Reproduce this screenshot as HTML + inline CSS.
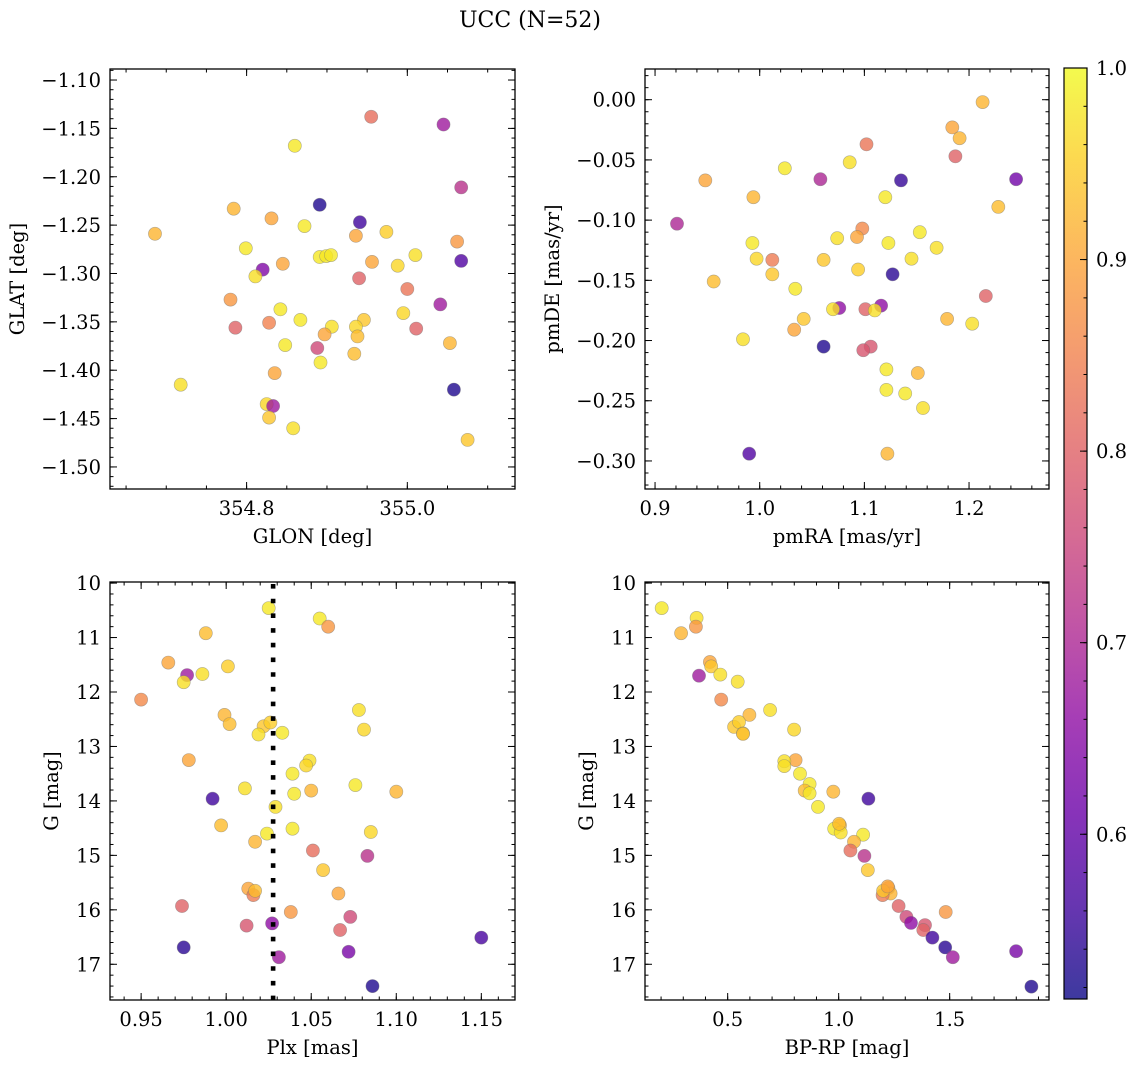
<!DOCTYPE html>
<html><head><meta charset="utf-8">
<style>
html,body{margin:0;padding:0;background:#fff;}
svg{display:block;font-family:"DejaVu Serif","Liberation Serif",serif;}
</style></head>
<body>
<svg id="fig" width="1136" height="1068" viewBox="0 0 1136 1068" xmlns="http://www.w3.org/2000/svg">
<defs>
<linearGradient id="cbgrad" x1="0" y1="1" x2="0" y2="0">
<stop offset="0" stop-color="#0d0887"/><stop offset="0.1" stop-color="#41049d"/><stop offset="0.2" stop-color="#6a00a8"/><stop offset="0.3" stop-color="#8f0da4"/><stop offset="0.4" stop-color="#b12a90"/><stop offset="0.5" stop-color="#cc4778"/><stop offset="0.6" stop-color="#e16462"/><stop offset="0.7" stop-color="#f2844b"/><stop offset="0.8" stop-color="#fca636"/><stop offset="0.9" stop-color="#fcce25"/><stop offset="1" stop-color="#f0f921"/>
</linearGradient>
</defs>
<text x="530" y="27" font-size="22" text-anchor="middle">UCC (N=52)</text>
</svg>
<script>
// Panel 1: GLON vs GLAT
const glon=[354.955,355.045,354.860,355.067,354.891,354.784,354.831,354.941,354.686,354.872,354.936,354.974,355.062,354.799,354.891,354.899,354.905,355.010,355.067,354.956,354.988,354.820,354.845,354.811,354.940,355.000,354.780,355.041,354.842,354.995,354.786,354.828,354.867,354.946,354.906,354.936,354.897,354.938,355.011,355.053,354.848,354.888,354.934,354.892,354.835,354.718,355.058,354.825,354.833,354.828,354.858,355.075];
const glat=[-1.138,-1.146,-1.168,-1.211,-1.229,-1.233,-1.243,-1.247,-1.259,-1.251,-1.261,-1.257,-1.267,-1.274,-1.283,-1.282,-1.281,-1.281,-1.287,-1.288,-1.292,-1.296,-1.290,-1.303,-1.305,-1.316,-1.327,-1.332,-1.337,-1.341,-1.356,-1.351,-1.348,-1.348,-1.355,-1.355,-1.363,-1.365,-1.357,-1.372,-1.374,-1.377,-1.383,-1.392,-1.403,-1.415,-1.420,-1.435,-1.437,-1.449,-1.460,-1.472];
const prob1=[0.82,0.68,0.98,0.72,0.53,0.92,0.90,0.56,0.92,0.98,0.90,0.95,0.88,0.98,0.98,0.98,0.98,0.97,0.58,0.90,0.96,0.64,0.90,0.97,0.80,0.83,0.88,0.68,0.98,0.96,0.80,0.85,0.98,0.94,0.97,0.96,0.90,0.93,0.80,0.92,0.98,0.76,0.93,0.98,0.90,0.97,0.53,0.96,0.68,0.94,0.97,0.94];
// Panel 2: pmRA vs pmDE
const pmra=[1.213,1.184,1.191,1.102,1.187,1.086,1.024,1.058,1.135,1.245,0.948,0.994,1.120,1.228,0.921,1.098,1.093,1.074,1.153,1.123,1.169,0.993,0.997,1.012,1.061,1.145,1.094,1.012,1.127,0.956,1.034,1.216,1.076,1.070,1.116,1.101,1.110,1.179,1.203,1.042,1.033,0.984,1.061,1.106,1.099,1.121,1.151,1.121,1.139,1.156,0.990,1.122];
const pmde=[-0.002,-0.023,-0.032,-0.037,-0.047,-0.052,-0.057,-0.066,-0.067,-0.066,-0.067,-0.081,-0.081,-0.089,-0.103,-0.107,-0.114,-0.115,-0.110,-0.119,-0.123,-0.119,-0.132,-0.133,-0.133,-0.132,-0.141,-0.145,-0.145,-0.151,-0.157,-0.163,-0.173,-0.174,-0.171,-0.174,-0.175,-0.182,-0.186,-0.182,-0.191,-0.199,-0.205,-0.205,-0.208,-0.224,-0.227,-0.241,-0.244,-0.256,-0.294,-0.294];
const prob2=[0.92,0.90,0.92,0.83,0.80,0.97,0.98,0.70,0.55,0.62,0.90,0.92,0.98,0.93,0.70,0.86,0.90,0.97,0.98,0.98,0.97,0.98,0.96,0.84,0.94,0.97,0.95,0.94,0.54,0.93,0.98,0.80,0.66,0.97,0.66,0.80,0.97,0.92,0.97,0.94,0.90,0.97,0.53,0.78,0.78,0.98,0.92,0.98,0.98,0.97,0.58,0.92];
// Panel 3: Plx vs G
const plx=[1.025,1.055,1.060,0.988,0.966,0.977,0.986,1.001,0.975,0.950,1.078,0.999,1.002,1.022,1.026,1.019,1.033,1.081,0.978,1.049,1.047,1.039,1.076,1.011,1.040,1.050,1.100,0.992,1.029,0.997,1.039,1.024,1.085,1.017,1.051,1.083,1.057,1.013,1.016,1.017,1.066,0.974,1.038,1.073,1.012,1.027,1.067,1.150,0.975,1.072,1.031,1.086];
const gmag3=[10.46,10.65,10.80,10.92,11.46,11.69,11.67,11.53,11.82,12.14,12.33,12.42,12.59,12.63,12.56,12.78,12.75,12.69,13.25,13.26,13.35,13.50,13.71,13.77,13.87,13.81,13.83,13.96,14.11,14.45,14.51,14.60,14.57,14.75,14.91,15.01,15.27,15.61,15.73,15.65,15.70,15.93,16.04,16.13,16.29,16.25,16.37,16.51,16.69,16.77,16.87,17.40];
const prob3=[0.98,0.98,0.88,0.93,0.90,0.68,0.97,0.95,0.97,0.86,0.97,0.92,0.93,0.94,0.95,0.97,0.98,0.96,0.90,0.97,0.96,0.98,0.98,0.97,0.98,0.92,0.92,0.56,0.97,0.93,0.98,0.98,0.96,0.92,0.82,0.72,0.94,0.90,0.84,0.93,0.90,0.80,0.88,0.76,0.78,0.66,0.80,0.57,0.54,0.63,0.68,0.53];
// Panel 4: BP-RP vs G
const bprp=[0.203,0.360,0.357,0.290,0.420,0.426,0.371,0.467,0.545,0.471,0.691,0.598,0.529,0.551,0.569,0.569,0.799,0.806,0.755,0.755,0.826,0.869,0.847,0.869,0.976,1.134,0.907,1.006,0.980,1.009,1.110,1.069,1.053,1.116,1.131,1.224,1.234,1.198,1.200,1.270,1.482,1.305,1.326,1.389,1.381,1.422,1.480,1.514,1.799,1.868,1.002,1.221];
const gmag4=[10.46,10.64,10.80,10.92,11.45,11.53,11.70,11.68,11.81,12.14,12.33,12.42,12.64,12.55,12.76,12.77,12.69,13.25,13.27,13.36,13.50,13.69,13.81,13.86,13.83,13.96,14.11,14.45,14.51,14.58,14.62,14.75,14.91,15.01,15.27,15.60,15.70,15.73,15.65,15.93,16.04,16.13,16.24,16.28,16.37,16.51,16.69,16.87,16.76,17.41,14.42,15.57];
const prob4=[0.98,0.97,0.88,0.92,0.90,0.94,0.68,0.97,0.97,0.86,0.97,0.92,0.94,0.95,0.97,0.93,0.96,0.90,0.97,0.97,0.98,0.98,0.93,0.98,0.92,0.56,0.98,0.93,0.98,0.97,0.98,0.92,0.82,0.72,0.94,0.90,0.92,0.84,0.94,0.80,0.88,0.76,0.66,0.78,0.80,0.56,0.54,0.68,0.63,0.53,0.93,0.90];
// Tick values
const ticks1x=[354.8,355.0], ticks1y=[-1.10,-1.15,-1.20,-1.25,-1.30,-1.35,-1.40,-1.45,-1.50];
const ticks2x=[0.9,1.0,1.1,1.2], ticks2y=[0.00,-0.05,-0.10,-0.15,-0.20,-0.25,-0.30];
const ticks3x=[0.95,1.00,1.05,1.10,1.15], ticksGy=[10,11,12,13,14,15,16,17];
const ticks4x=[0.5,1.0,1.5];
const ticksCb=[0.6,0.7,0.8,0.9,1.0];
const plxLine=1.0276;
const vmin=0.514, vmax=1.0;

const FS=19.5;
const NS='http://www.w3.org/2000/svg';
const svg=document.getElementById('fig');
function mk(tag,attrs,parent){const e=document.createElementNS(NS,tag);for(const k in attrs)e.setAttribute(k,attrs[k]);(parent||svg).appendChild(e);return e;}
const stops=[[13,8,135],[65,4,157],[106,0,168],[143,13,164],[177,42,144],[204,71,120],[225,100,98],[242,132,75],[252,166,54],[252,206,37],[240,249,33]];
function plasma(p){let t=(p-vmin)/(vmax-vmin);t=Math.max(0,Math.min(1,t));const f=t*10,i=Math.min(9,Math.floor(f)),r=f-i;const a=stops[i],b=stops[i+1];return 'rgb('+[0,1,2].map(k=>Math.round(a[k]+(b[k]-a[k])*r)).join(',')+')';}
function fmt(v,d){const s=Math.abs(v).toFixed(d);return (v<-1e-9?'\u2212':'')+s;}

function panel(o){
  const g=mk('g',{});
  
  
  const sx=v=>o.x0+(v-o.dx0)/(o.dx1-o.dx0)*(o.x1-o.x0);
  const sy=v=>o.y0+(v-o.dy0)/(o.dy1-o.dy0)*(o.y1-o.y0);
  const pg=mk('g',{},g);
  
  
  for(let i=0;i<o.xs.length;i++){
    const c=mk('circle',{cx:sx(o.xs[i]).toFixed(1),cy:sy(o.ys[i]).toFixed(1),r:6.6,fill:plasma(o.ps[i]),'fill-opacity':0.8,stroke:'#777','stroke-opacity':0.55,'stroke-width':0.6},pg);
    
    
  }
  if(o.extra)o.extra(g,sx,sy);
  const fr=mk('rect',{x:o.x0,y:o.y0,width:o.x1-o.x0,height:o.y1-o.y0,fill:'none',stroke:'#000','stroke-width':1.3},g);
  
  
  const tg=mk('g',{stroke:'#000','stroke-width':1},g);
  const minorX=[];for(let v=Math.ceil(o.dx0/o.mx-1e-6)*o.mx;v<=o.dx1;v+=o.mx)minorX.push(v);
  minorX.forEach(v=>{const X=sx(v);mk('line',{x1:X,x2:X,y1:o.y1,y2:o.y1-3.5},tg);mk('line',{x1:X,x2:X,y1:o.y0,y2:o.y0+3.5},tg);});
  const lo=Math.min(o.dy0,o.dy1),hi=Math.max(o.dy0,o.dy1);
  const minorY=[];for(let v=Math.ceil(lo/o.my-1e-6)*o.my;v<=hi;v+=o.my)minorY.push(v);
  minorY.forEach(v=>{const Y=sy(v);mk('line',{y1:Y,y2:Y,x1:o.x0,x2:o.x0+3.5},tg);mk('line',{y1:Y,y2:Y,x1:o.x1,x2:o.x1-3.5},tg);});
  o.tx.forEach(v=>{const X=sx(v);mk('line',{x1:X,x2:X,y1:o.y1,y2:o.y1-7},tg);mk('line',{x1:X,x2:X,y1:o.y0,y2:o.y0+7},tg);
    const t=mk('text',{x:X,y:o.y1+26,'font-size':FS,'text-anchor':'middle'},g);t.textContent=fmt(v,o.dxd);
    
    });
  o.ty.forEach(v=>{const Y=sy(v);mk('line',{y1:Y,y2:Y,x1:o.x0,x2:o.x0+7},tg);mk('line',{y1:Y,y2:Y,x1:o.x1,x2:o.x1-7},tg);
    const t=mk('text',{x:o.x0-9,y:Y+7,'font-size':FS,'text-anchor':'end'},g);t.textContent=fmt(v,o.dyd);
    
    });
  const xl=mk('text',{x:(o.x0+o.x1)/2,y:o.y1+54,'font-size':FS,'text-anchor':'middle'},g);xl.textContent=o.xlab;
  
  
  const yc=(o.y0+o.y1)/2;
  const yl=mk('text',{x:o.ylx,y:yc,'font-size':FS,'text-anchor':'middle',transform:'rotate(-90 '+o.ylx+' '+yc+')'},g);yl.textContent=o.ylab;
  
  
}

panel({name:'glon-glat-panel',x0:110,x1:515,y0:69,y1:489,dx0:354.630,dx1:355.134,dy0:-1.0886,dy1:-1.5228,mx:0.05,my:0.01,tx:ticks1x,ty:ticks1y,dxd:1,dyd:2,xs:glon,ys:glat,ps:prob1,xlab:'GLON [deg]',ylab:'GLAT [deg]',ylx:24});
panel({name:'pm-panel',x0:645,x1:1049,y0:69,y1:489,dx0:0.8904,dx1:1.2764,dy0:0.0255,dy1:-0.3233,mx:0.02,my:0.01,tx:ticks2x,ty:ticks2y,dxd:1,dyd:2,xs:pmra,ys:pmde,ps:prob2,xlab:'pmRA [mas/yr]',ylab:'pmDE [mas/yr]',ylx:559});
panel({name:'plx-g-panel',x0:110,x1:515,y0:582,y1:1000,dx0:0.9317,dx1:1.1698,dy0:9.98,dy1:17.656,mx:0.01,my:0.2,tx:ticks3x,ty:ticksGy,dxd:2,dyd:0,xs:plx,ys:gmag3,ps:prob3,xlab:'Plx [mas]',ylab:'G [mag]',ylx:58,
  extra:(g,sx,sy)=>{const l=mk('line',{x1:sx(plxLine),x2:sx(plxLine),y1:584,y2:1000,stroke:'#000','stroke-width':4.6,'stroke-dasharray':'4.6 10.1'},g);
    
    }});
panel({name:'cmd-panel',x0:645,x1:1049,y0:582,y1:1000,dx0:0.1276,dx1:1.9474,dy0:9.98,dy1:17.656,mx:0.1,my:0.2,tx:ticks4x,ty:ticksGy,dxd:1,dyd:0,xs:bprp,ys:gmag4,ps:prob4,xlab:'BP-RP [mag]',ylab:'G [mag]',ylx:593});

(function(){
  const x0=1064,x1=1087,y0=68,y1=999;
  const cg=mk('g',{});
  
  
  mk('rect',{x:x0,y:y0,width:x1-x0,height:y1-y0,fill:'url(#cbgrad)','fill-opacity':0.8},cg);
  mk('rect',{x:x0,y:y0,width:x1-x0,height:y1-y0,fill:'none',stroke:'#000','stroke-width':1.2},cg);
  const sy=v=>y1-(v-vmin)/(vmax-vmin)*(y1-y0);
  for(let v=0.52;v<=1.0001;v+=0.02){mk('line',{x1:x1,x2:x1-3.5,y1:sy(v),y2:sy(v),stroke:'#000'},cg);}
  ticksCb.forEach(v=>{const Y=sy(v);mk('line',{x1:x1,x2:x1-7,y1:Y,y2:Y,stroke:'#000'},cg);
    const t=mk('text',{x:x1+9,y:Y+7,'font-size':FS},cg);t.textContent=v.toFixed(1);
    
    });
})();
</script>
</body></html>
